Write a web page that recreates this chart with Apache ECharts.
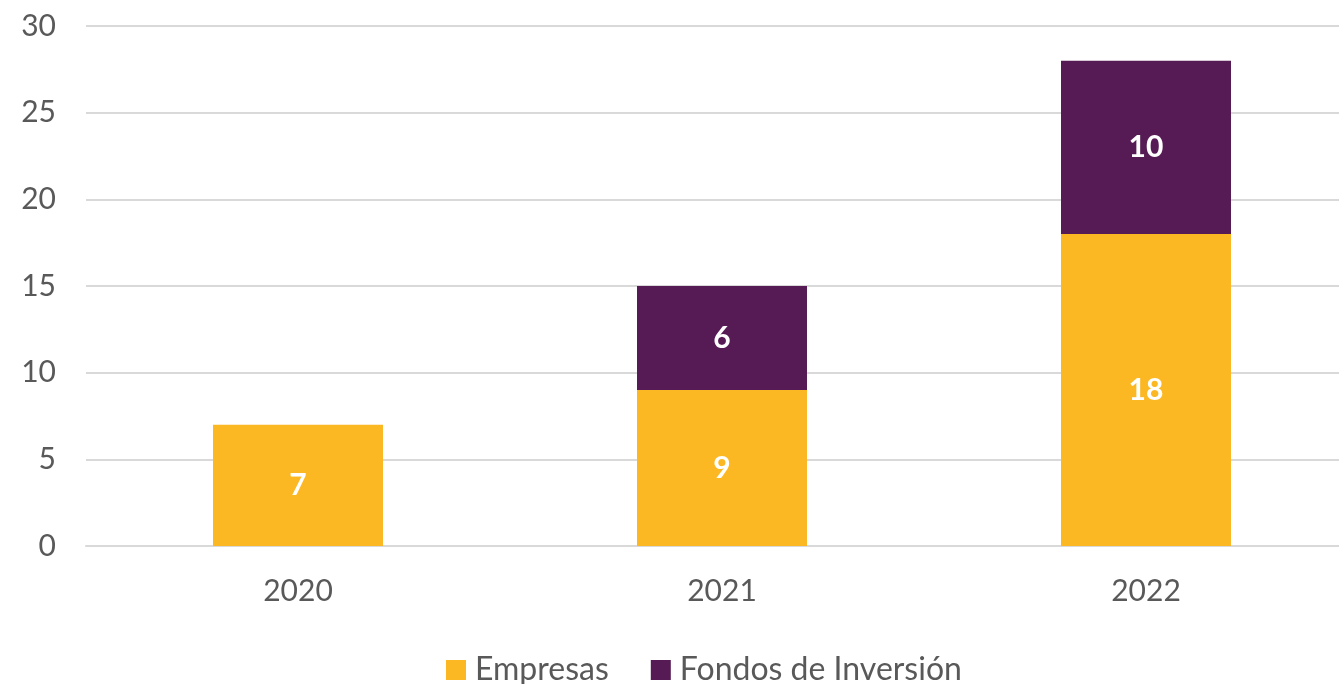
<!DOCTYPE html>
<html>
<head>
<meta charset="utf-8" />
<title>Empresas y Fondos de Inversión</title>
<script src="https://cdn.jsdelivr.net/npm/echarts@6/dist/echarts.min.js"></script>
<style>
  html, body { margin: 0; padding: 0; background: #fff; }
  #main { width: 1339px; height: 684px; }
</style>
</head>
<body>
<div id="main"></div>
<script type="text/javascript">
var years = ['2020', '2021', '2022'];
var empresas = [7, 9, 18];
var fondos = [null, 6, 10];

var chart = echarts.init(document.getElementById('main'));
var fontFam = 'Lato, "Open Sans", sans-serif';

// etiquetas blancas dentro de las barras
var barLabel = {
  show: true,
  position: 'inside',
  color: '#fff',
  fontWeight: 'bold',
  fontSize: 30,
  fontFamily: fontFam
};

chart.setOption({
  animation: false,
  grid: { left: 86, width: 1272, top: 26, bottom: 138, containLabel: false, outerBoundsMode: 'none' },
  legend: {
    bottom: -7,
    left: 441,
    itemWidth: 20,
    itemHeight: 20,
    itemGap: 42,
    icon: 'rect',
    textStyle: { color: '#595959', fontSize: 32, fontFamily: fontFam, padding: [0, 0, 0, 4] },
    data: ['Empresas', 'Fondos de Inversión']
  },
  xAxis: {
    type: 'category',
    data: years,
    axisTick: { show: false },
    axisLine: { lineStyle: { color: '#D9D9D9', width: 2 } },
    axisLabel: { color: '#595959', fontSize: 30, margin: 30, fontFamily: fontFam }
  },
  yAxis: {
    type: 'value',
    min: 0,
    max: 30,
    interval: 5,
    axisLine: { show: false },
    axisTick: { show: false },
    splitLine: { lineStyle: { color: '#D9D9D9', width: 2 } },
    axisLabel: { color: '#595959', fontSize: 30, margin: 30, fontFamily: fontFam }
  },
  series: [
    {
      name: 'Empresas',
      type: 'bar',
      stack: 'total',
      barWidth: 170,
      itemStyle: { color: '#FBB823' },
      label: barLabel,
      data: empresas
    },
    {
      name: 'Fondos de Inversión',
      type: 'bar',
      stack: 'total',
      barWidth: 170,
      itemStyle: { color: '#561A55' },
      label: barLabel,
      data: fondos
    }
  ]
});
</script>
</body>
</html>
